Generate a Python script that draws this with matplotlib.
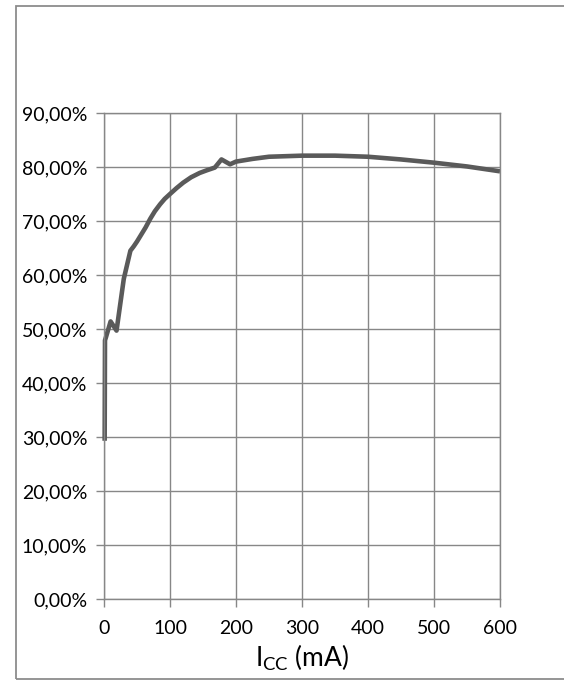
import matplotlib
matplotlib.use("Agg")
import matplotlib.pyplot as plt
from matplotlib.ticker import FuncFormatter
from matplotlib.patches import Rectangle

# Data
current_mA = [1, 1.5, 3, 10, 19, 30, 40, 45, 50, 57, 63, 70, 77, 85, 92, 100,
              110, 120, 132, 145, 156, 168, 178, 191, 200, 225, 250, 275, 300,
              350, 400, 450, 500, 550, 600]
efficiency_pct = [29.3, 47.9, 48.5, 51.4, 49.7, 59.3, 64.5, 65.3, 66.2, 67.6,
                  68.8, 70.4, 71.8, 73.1, 74.1, 75.0, 76.1, 77.1, 78.1, 78.9,
                  79.4, 79.9, 81.4, 80.5, 81.0, 81.5, 81.9, 82.0, 82.1, 82.1,
                  81.9, 81.4, 80.8, 80.1, 79.2]
x_ticks = [0, 100, 200, 300, 400, 500, 600]
y_ticks = [0, 10, 20, 30, 40, 50, 60, 70, 80, 90]

plt.rcParams['font.family'] = ['Lato', 'DejaVu Sans']

W, H = 564, 681
fig = plt.figure(figsize=(W / 100, H / 100), dpi=100)

# outer chart frame
fig.patches.append(Rectangle((16 / W, 1 - 679 / H), 1.2, (679 - 6) / H,
                             transform=fig.transFigure, fill=False,
                             edgecolor='#8c8c8c', linewidth=1.3))

ax = fig.add_axes([104 / W, 1 - 599 / H, (500 - 104) / W, (599 - 113) / H])

grid_c = '#878787'
ax.set_xlim(0, 600)
ax.set_ylim(0, 90)
ax.set_xticks(x_ticks)
ax.set_yticks(y_ticks)
ax.grid(True, color=grid_c, linewidth=1.0)
ax.set_axisbelow(True)
for s in ax.spines.values():
    s.set_color(grid_c)
    s.set_linewidth(1.0)

ax.yaxis.set_major_formatter(FuncFormatter(lambda v, p: f"{v:.2f}".replace('.', ',') + '%'))
ax.tick_params(axis='both', colors=grid_c, labelcolor='#000000', labelsize=14,
               length=6, width=1.0, direction='out')
ax.tick_params(axis='y', pad=6)
ax.tick_params(axis='x', pad=9)

ax.plot(current_mA, efficiency_pct, color='#5a5a5a', linewidth=3.3,
        solid_joinstyle='round', solid_capstyle='butt', clip_on=False)

ax.set_xlabel(r'$\mathregular{I_{CC}}$ (mA)', fontsize=19, labelpad=4, color='#000000')

fig.savefig('out.png', dpi=100)
